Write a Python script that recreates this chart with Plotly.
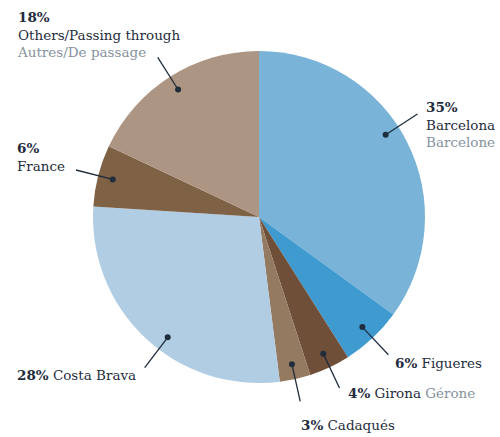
import math
import plotly.graph_objects as go

categories = ["Barcelona", "Figueres", "Girona", "Cadaqués", "Costa Brava", "France", "Others/Passing through"]
values = [35, 6, 4, 3, 28, 6, 18]
french = ["Barcelone", "", "Gérone", "", "", "", "Autres/De passage"]
colors = ["#7ab3d8", "#3f9ad0", "#6f4f38", "#957a62", "#b1cde3", "#7f6146", "#ad9583"]

W, H = 500, 437
CX, CY, R = 259, 217, 166
NAVY = "#1f2d3d"
GRAY = "#8592a0"
FONT = "'DejaVu Serif', serif"

label_cfg = {
    "Barcelona": dict(dang=-6, tx=424, ty=124, multi=True),
    "Figueres": dict(dang=0, tx=393, ty=363, multi=False),
    "Girona": dict(dang=0, tx=346, ty=393, multi=False),
    "Cadaqués": dict(dang=0, tx=299, ty=425, multi=False),
    "Costa Brava": dict(dang=-6, tx=15, ty=375, multi=False),
    "France": dict(dang=0, tx=15, ty=157, multi=True),
    "Others/Passing through": dict(dang=0, tx=15, ty=34, multi=True),
}

fig = go.Figure()
fig.add_trace(go.Pie(
    labels=categories, values=values, sort=False, direction="clockwise", rotation=0,
    marker=dict(colors=colors, line=dict(width=0)),
    textinfo="none", hoverinfo="label+percent", showlegend=False,
    domain=dict(x=[(CX - R) / W, (CX + R) / W], y=[(H - CY - R) / H, (H - CY + R) / H]),
))

total = sum(values)
cum = 0
annotations = []
shapes = []
for cat, v, fr in zip(categories, values, french):
    cfg = label_cfg[cat]
    mid = (cum + v / 2) / total * 360 + cfg["dang"]
    cum += v
    a = math.radians(mid)
    r1, r2 = 151, 189
    x1, y1 = CX + r1 * math.sin(a), CY - r1 * math.cos(a)
    x2, y2 = CX + r2 * math.sin(a), CY - r2 * math.cos(a)
    shapes.append(dict(type="line", xref="x", yref="y", x0=x1, y0=y1, x1=x2, y1=y2,
                       line=dict(color=NAVY, width=1.3), layer="above"))
    shapes.append(dict(type="circle", xref="x", yref="y", x0=x1 - 3, y0=y1 - 3, x1=x1 + 3, y1=y1 + 3,
                       fillcolor=NAVY, line=dict(width=0), layer="above"))
    pct = f"<b>{round(v / total * 100)}%</b>"
    sep = "<br>" if cfg["multi"] else " "
    txt = pct + sep + cat
    if fr:
        txt += sep + f"<span style='color:{GRAY}'>{fr}</span>"
    annotations.append(dict(x=cfg["tx"], y=cfg["ty"], xref="x", yref="y", text=txt, showarrow=False,
                            xanchor="left", yanchor="middle", align="left",
                            font=dict(family=FONT, size=13.5, color=NAVY)))

fig.update_layout(
    width=W, height=H, margin=dict(l=0, r=0, t=0, b=0),
    paper_bgcolor="white", plot_bgcolor="rgba(0,0,0,0)",
    xaxis=dict(range=[0, W], visible=False, fixedrange=True),
    yaxis=dict(range=[H, 0], visible=False, fixedrange=True),
    annotations=annotations, shapes=shapes,
)
fig.write_html("out.html", config={"displayModeBar": False},
               post_script="document.body.style.margin='0';document.body.style.overflow='hidden';")
